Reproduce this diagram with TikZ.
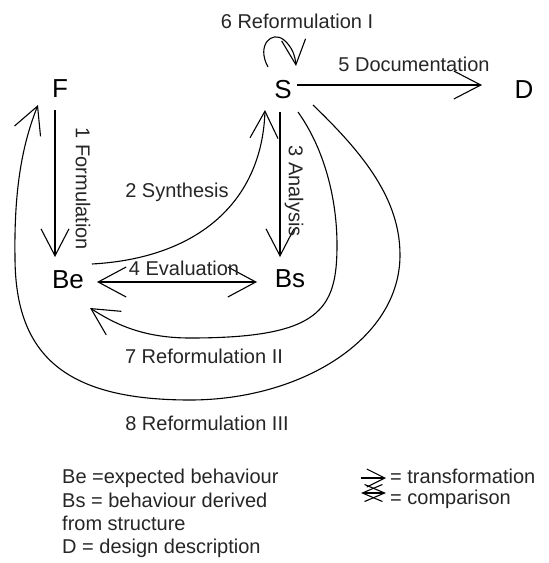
\documentclass[tikz,border=0pt]{standalone}
\usepackage{fontspec}
\setmainfont{Liberation Sans}
\usetikzlibrary{arrows.meta}
\begin{document}
\begin{tikzpicture}[x=1pt,y=-1pt,
  big/.style={inner sep=0pt,font=\fontsize{26}{30}\selectfont},
  lab/.style={inner sep=0pt,text height=14.4pt,text depth=0pt,
    font=\fontsize{20}{24}\selectfont,text=black!85},
  leg/.style={inner sep=0pt,anchor=base west,
    font=\fontsize{20}{24}\selectfont,text=black!85},
  link/.style={line width=1.1pt,-{Straight Barb[length=27pt,width=28pt]}},
  twoway/.style={line width=1.1pt,
    {Straight Barb[length=28pt,width=30pt]}-{Straight Barb[length=28pt,width=30pt]}},
  smalllink/.style={line width=1.1pt,-{Straight Barb[length=25pt,width=24pt]}},
  keyarrow/.style={line width=1.1pt,-{Straight Barb[length=18pt,width=18pt]}},
  keytwoway/.style={line width=1.1pt,
    {Straight Barb[length=20pt,width=17pt]}-{Straight Barb[length=20pt,width=17pt]}}]

\fill[white] (0,0) rectangle (549,563);
\useasboundingbox (0,0) rectangle (549,563);

% design states
\node[big] (F)  at (60,89)  {F};
\node[big] (S)  at (283,90) {S};
\node[big] (D)  at (524,90) {D};
\node[big] (Be) at (68,280) {Be};
\node[big] (Bs) at (290,279) {Bs};

% 1 formulation
\draw[link] ([shift={(-5,21)}]F.center) -- ([shift={(-13,-23)}]Be.center);
\node[lab,rotate=-90] (l1) at (83,189) {1 Formulation};

% 2 synthesis
\draw[link] ([shift={(24,-16)}]Be.center) .. controls (200,258) and (262,200) .. ([shift={(-18,20)}]S.center);
\node[lab] (l2) at (177,190) {2 Synthesis};

% 3 analysis
\draw[link] ([shift={(-3,22)}]S.center) -- ([shift={(-10,-22)}]Bs.center);
\node[lab,rotate=-90] (l3) at (296,191) {3 Analysis};

% 4 evaluation
\draw[twoway] ([shift={(29,2)}]Be.center) -- ([shift={(-33,3)}]Bs.center);
\node[lab] (l4) at (184,268) {4 Evaluation};

% 5 documentation
\draw[link] ([shift={(14,-5)}]S.center) -- ([shift={(-42,-5)}]D.center);
\node[lab] (l5) at (414,64) {5 Documentation};

% 6 reformulation I (loop on S)
\draw[smalllink] ([shift={(-15,-23)}]S.center) .. controls (256,45) and (272,30) .. (284,40)
  .. controls (292,47) and (295,55) .. ([shift={(13,-24)}]S.center);
\node[lab] (l6) at (297,21) {6 Reformulation I};

% 7 reformulation II
\draw[link] ([shift={(15,22)}]S.center)
  .. controls (325,150) and (337,200) .. (337,245)
  .. controls (337,310) and (320,338) .. (190,338)
  .. controls (140,338) and (112,322) .. ([shift={(22,28)}]Be.center);
\node[lab] (l7) at (204,356) {7 Reformulation II};

% 8 reformulation III
\draw[link] ([shift={(30,15)}]S.center)
  .. controls (365,155) and (400,200) .. (400,255)
  .. controls (400,340) and (300,400) .. (190,400)
  .. controls (67,400) and (15,357) .. (15,257)
  .. controls (14,190) and (22,145) .. ([shift={(-22,16)}]F.center);
\node[lab] (l8) at (207,423) {8 Reformulation III};

% key
\node[leg] (k1) at (62,483) {Be =expected behaviour};
\node[leg] (k2) at (62,507) {Bs = behaviour derived};
\node[leg] (k3) at (62,530) {from structure};
\node[leg] (k4) at (62,553) {D = design description};

\coordinate (ta) at (361,478);
\coordinate (tb) at (386,478);
\coordinate (ca) at (361,493);
\coordinate (cb) at (386,493);
\draw[keyarrow] (ta) -- (tb);
\draw[keytwoway] (ca) -- (cb);
\node[leg] (k5) at (390,483) {= transformation};
\node[leg] (k6) at (390,504) {= comparison};
\end{tikzpicture}
\end{document}
